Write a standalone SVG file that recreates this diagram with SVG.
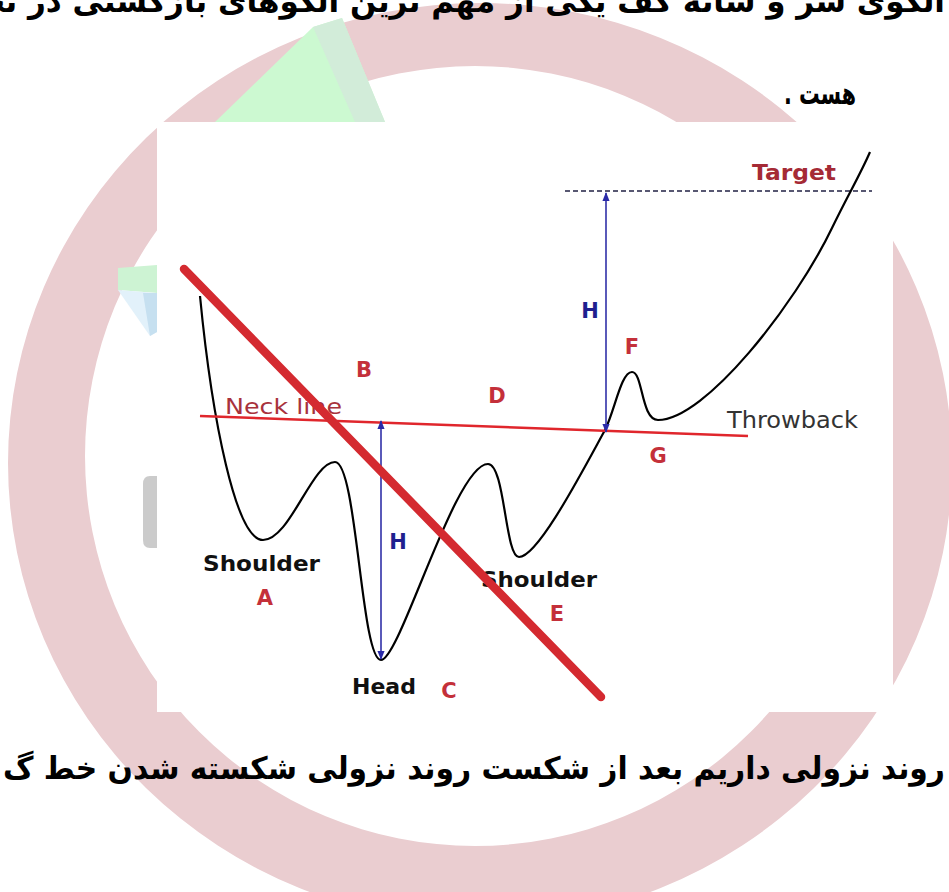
<svg xmlns="http://www.w3.org/2000/svg" width="949" height="892" viewBox="0 0 949 892">
<style>
.fa{font-family:"DejaVu Sans","Noto Sans",sans-serif;font-weight:bold;fill:#000;font-size:31px}
.lbl{font-family:"DejaVu Sans",Verdana,sans-serif;font-weight:bold;font-size:21px;fill:#c4303a;text-anchor:middle}
.blk{font-family:"DejaVu Sans",Verdana,sans-serif;font-weight:bold;font-size:22px;fill:#111}
.hl{font-family:"DejaVu Sans",Verdana,sans-serif;font-weight:bold;font-size:21px;fill:#1f1f8f;text-anchor:middle}
.arr{stroke:#3030a8;stroke-width:1.6;fill:none}
</style>
<defs>
<marker id="ah" viewBox="0 0 10 10" refX="9" refY="5" markerWidth="9" markerHeight="9" markerUnits="userSpaceOnUse" orient="auto-start-reverse">
<path d="M0,1 L10,5 L0,9 z" fill="#2a2aa8"/>
</marker>
</defs>
<rect width="949" height="892" fill="#fff"/>
<g id="background">
<path fill="#eacdd0" fill-rule="evenodd" d="M8,463 A472,460 0 1,0 952,463 A472,460 0 1,0 8,463 Z M85,456 A390,390 0 1,0 865,456 A390,390 0 1,0 85,456 Z"/>
<polygon points="313,27 342,18 385,122 215,122" fill="#ccf9d1"/>
<polygon points="313,27 342,18 385,122 355,122" fill="#d2ecd9"/>
<polygon points="118,268 157,265 157,293 118,290" fill="#cdf3d3"/>
<polygon points="118,290 157,293 157,332 150,336" fill="#e2f1fa"/>
<polygon points="143,293 157,293 157,332 150,336" fill="#c6e0f0"/>
<path d="M157,476 L150,476 Q143,476 143,484 L143,540 Q143,548 150,548 L157,548 Z" fill="#cbcbcb"/>
</g>
<g id="texts">
<text class="fa" x="945" y="12" direction="rtl" text-anchor="start">الگوی سر و شانه کف یکی از مهم ترین الگوهای بازگشتی در تحلیل تکنیکال به شمار می رود</text>
<text class="fa" x="856" y="104" direction="rtl" text-anchor="start" textLength="72" lengthAdjust="spacingAndGlyphs">هست .</text>
<text class="fa" x="945" y="779" direction="rtl" text-anchor="start" textLength="942" lengthAdjust="spacingAndGlyphs">روند نزولی داریم بعد از شکست روند نزولی شکسته شدن خط گ</text>
</g>
<g id="chart">
<rect x="157" y="122" width="736" height="590" fill="#fff"/>
<line id="target-line" x1="565" y1="191" x2="872" y2="191" stroke="#222244" stroke-width="1.4" stroke-dasharray="5,3"/>
<g id="labels">
<text class="blk" x="203" y="571" textLength="117" lengthAdjust="spacingAndGlyphs">Shoulder</text>
<text class="blk" x="481" y="587" textLength="116" lengthAdjust="spacingAndGlyphs">Shoulder</text>
<text class="blk" x="352" y="694">Head</text>
<text x="225" y="414" font-family="DejaVu Sans,Verdana,sans-serif" font-size="22" fill="#a8323c" textLength="117" lengthAdjust="spacingAndGlyphs">Neck line</text>
<text x="752" y="180" font-family="DejaVu Sans,Verdana,sans-serif" font-size="22" font-weight="bold" fill="#a52a35" textLength="84" lengthAdjust="spacingAndGlyphs">Target</text>
<text x="727" y="428" font-family="DejaVu Sans,Verdana,sans-serif" font-size="23" fill="#333" textLength="131" lengthAdjust="spacingAndGlyphs">Throwback</text>
<text class="lbl" x="364" y="377">B</text>
<text class="lbl" x="497" y="403">D</text>
<text class="lbl" x="632" y="354">F</text>
<text class="lbl" x="658" y="463">G</text>
<text class="lbl" x="265" y="605">A</text>
<text class="lbl" x="557" y="621">E</text>
<text class="lbl" x="449" y="698">C</text>
<text class="hl" x="398" y="549">H</text>
<text class="hl" x="590" y="318">H</text>
</g>
<g id="connectors">
<path id="price" d="M200,296 C212,420 236,540 263,540 C290,540 312,462 335,462 C357,462 361,660 381,660 C400,660 455,464 488,464 C505,464 505,557 519,557 C538,557 583,470 605,430 C615,410 621,372 632,372 C643,372 641,420 658,420 C705,420 795,305 832,228 C848,195 860,175 870,152" fill="none" stroke="#000" stroke-width="2.2"/>
<line id="neckline" x1="200" y1="416" x2="748" y2="436" stroke="#e0262c" stroke-width="2.6"/>
<line id="h-left" class="arr" x1="381" y1="421" x2="381" y2="659" marker-start="url(#ah)" marker-end="url(#ah)"/>
<line id="h-right" class="arr" x1="606" y1="193" x2="606" y2="432" marker-start="url(#ah)" marker-end="url(#ah)"/>
<line id="trendline" x1="184" y1="269" x2="601" y2="697" stroke="#d42a30" stroke-width="8.5" stroke-linecap="round"/>
</g>
</g>
</svg>
